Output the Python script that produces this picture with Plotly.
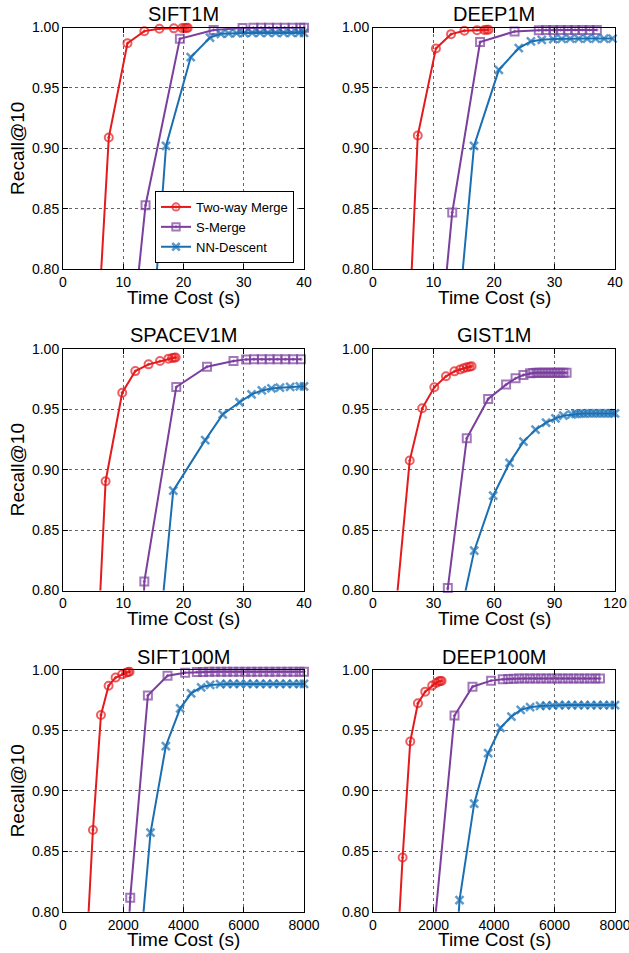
import plotly.graph_objects as go

W, H = 629, 953

titles = ["SIFT1M", "DEEP1M", "SPACEV1M", "GIST1M", "SIFT100M", "DEEP100M"]
series_names = ["Two-way Merge", "S-Merge", "NN-Descent"]

# ---- SIFT1M ----
sift1m_merge_x = [5.2, 7.6, 10.7, 13.5, 16.0, 18.4, 19.8, 20.2, 20.5, 20.7]
sift1m_merge_y = [0.70, 0.909, 0.987, 0.997, 0.999, 0.9993, 0.9995, 0.9996, 0.9996, 0.9997]
sift1m_smerge_x = [11.5, 13.7, 19.4, 25.0, 29.8, 31.6, 32.9, 34.2, 35.5, 36.8, 38.1, 39.4, 40.0]
sift1m_smerge_y = [0.747, 0.853, 0.9906, 0.998, 0.9995, 0.9997, 0.9998, 0.9998, 0.9998, 0.9998, 0.9998, 0.9998, 0.9998]
sift1m_nnd_x = [14.5, 17.1, 21.2, 24.4, 26.2, 27.5, 28.8, 30.1, 31.4, 32.7, 34.0, 35.3, 36.6, 37.9, 39.2, 40.0]
sift1m_nnd_y = [0.725, 0.902, 0.9754, 0.9917, 0.9948, 0.9952, 0.9953, 0.9954, 0.9955, 0.9955, 0.9955, 0.9955, 0.9955, 0.9955, 0.9955, 0.9955]

# ---- DEEP1M ----
deep1m_merge_x = [5.5, 7.4, 10.4, 12.9, 15.1, 17.2, 18.4, 18.8, 19.1]
deep1m_merge_y = [0.70, 0.9107, 0.9827, 0.9945, 0.9973, 0.9978, 0.998, 0.9981, 0.9982]
deep1m_smerge_x = [11.1, 13.1, 17.7, 23.4, 27.4, 28.6, 29.8, 31.0, 32.2, 33.4, 34.6, 35.8, 37.0]
deep1m_smerge_y = [0.742, 0.847, 0.988, 0.9967, 0.9978, 0.998, 0.998, 0.998, 0.998, 0.998, 0.998, 0.998, 0.998]
deep1m_nnd_x = [13.5, 16.7, 20.8, 24.1, 26.1, 27.9, 29.8, 31.2, 32.6, 34.0, 35.4, 36.8, 38.2, 39.6]
deep1m_nnd_y = [0.726, 0.902, 0.965, 0.983, 0.9885, 0.9898, 0.9904, 0.9906, 0.9907, 0.9908, 0.9908, 0.9908, 0.9908, 0.9908]

# ---- SPACEV1M ----
spacev_merge_x = [5.3, 7.07, 9.83, 12.0, 14.2, 16.1, 17.5, 18.1, 18.45, 18.7]
spacev_merge_y = [0.706, 0.8905, 0.9638, 0.9817, 0.9873, 0.990, 0.992, 0.9925, 0.9928, 0.993]
spacev_smerge_x = [13.0, 13.5, 18.8, 23.9, 28.3, 30.4, 31.7, 33.0, 34.3, 35.6, 36.9, 38.2, 39.5]
spacev_smerge_y = [0.72, 0.8075, 0.9685, 0.9853, 0.990, 0.9914, 0.9915, 0.9915, 0.9915, 0.9915, 0.9915, 0.9915, 0.9915]
spacev_nnd_x = [15.5, 18.3, 23.6, 26.5, 29.3, 31.3, 33.0, 34.6, 36.0, 37.7, 39.3, 40.0]
spacev_nnd_y = [0.738, 0.8827, 0.9245, 0.9458, 0.9559, 0.9624, 0.9657, 0.9673, 0.968, 0.9687, 0.969, 0.969]

# ---- GIST1M ----
gist_merge_x = [8.0, 18.2, 24.4, 30.4, 36.2, 40.4, 43.2, 44.9, 46.5, 47.9, 48.9]
gist_merge_y = [0.725, 0.9076, 0.9509, 0.9683, 0.9774, 0.9815, 0.983, 0.984, 0.9848, 0.9854, 0.9857]
gist_smerge_x = [36.0, 37.1, 46.5, 57.1, 66.0, 70.7, 74.6, 77.9, 79.5, 81.0, 82.5, 84.0, 85.5, 87.0, 88.5, 90.0, 91.5, 93.0, 94.5, 96.0]
gist_smerge_y = [0.75, 0.802, 0.926, 0.9586, 0.9705, 0.9757, 0.9785, 0.980, 0.9802, 0.9803, 0.9803, 0.9803, 0.9803, 0.9803, 0.9803, 0.9803, 0.9803, 0.9803, 0.9803, 0.9803]
gist_nnd_x = [41.0, 50.2, 59.6, 67.7, 74.6, 80.6, 85.8, 90.5, 94.4, 98.5, 100.5, 102.5, 104.5, 106.5, 108.5, 110.5, 112.5, 114.5, 116.5, 118.5, 120.0]
gist_nnd_y = [0.762, 0.833, 0.8785, 0.9057, 0.9233, 0.9332, 0.939, 0.9426, 0.9448, 0.9459, 0.9462, 0.9464, 0.9465, 0.9466, 0.9466, 0.9466, 0.9466, 0.9466, 0.9466, 0.9466, 0.9466]

# ---- SIFT100M ----
sift100m_merge_x = [700, 994, 1260, 1514, 1746, 1967, 2099, 2166, 2210]
sift100m_merge_y = [0.729, 0.8676, 0.9628, 0.987, 0.9937, 0.9964, 0.9978, 0.9983, 0.9986]
sift100m_smerge_x = [2100, 2232, 2818, 3470, 4055, 4442, 4650, 4850, 5050, 5250, 5450, 5650, 5850, 6050, 6250, 6450, 6650, 6850, 7050, 7250, 7450, 7650, 7850, 8000]
sift100m_smerge_y = [0.74, 0.8116, 0.979, 0.9953, 0.9978, 0.9983, 0.9984, 0.9985, 0.9985, 0.9985, 0.9985, 0.9985, 0.9985, 0.9985, 0.9985, 0.9985, 0.9985, 0.9985, 0.9985, 0.9985, 0.9985, 0.9985, 0.9985, 0.9985]
sift100m_nnd_x = [2500, 2906, 3414, 3890, 4254, 4586, 4884, 5215, 5440, 5660, 5880, 6100, 6320, 6540, 6760, 6980, 7200, 7420, 7640, 7860, 8000]
sift100m_nnd_y = [0.751, 0.8654, 0.9371, 0.9683, 0.9807, 0.9857, 0.9876, 0.9884, 0.9885, 0.9885, 0.9885, 0.9885, 0.9885, 0.9885, 0.9885, 0.9885, 0.9885, 0.9885, 0.9885, 0.9885, 0.9885]

# ---- DEEP100M ----
deep100m_merge_x = [780, 979, 1232, 1485, 1727, 1958, 2090, 2167, 2222, 2266]
deep100m_merge_y = [0.755, 0.8448, 0.9409, 0.9725, 0.9821, 0.9871, 0.9893, 0.9904, 0.9909, 0.991]
deep100m_smerge_x = [1900, 2695, 3289, 3905, 4290, 4470, 4650, 4830, 5010, 5190, 5370, 5550, 5730, 5910, 6090, 6270, 6450, 6630, 6810, 6990, 7170, 7350, 7503]
deep100m_smerge_y = [0.753, 0.9623, 0.9862, 0.9912, 0.9923, 0.9926, 0.9928, 0.993, 0.993, 0.993, 0.993, 0.993, 0.993, 0.993, 0.993, 0.993, 0.993, 0.993, 0.993, 0.993, 0.993, 0.993, 0.993]
deep100m_nnd_x = [2790, 2860, 3344, 3806, 4213, 4576, 4884, 5193, 5523, 5730, 5940, 6150, 6360, 6570, 6780, 6990, 7200, 7410, 7620, 7830, 8000]
deep100m_nnd_y = [0.78, 0.8096, 0.8894, 0.9312, 0.9521, 0.9615, 0.967, 0.9692, 0.9703, 0.9706, 0.9708, 0.971, 0.971, 0.971, 0.971, 0.971, 0.971, 0.971, 0.971, 0.971, 0.971]

datasets = [
    [(sift1m_merge_x, sift1m_merge_y), (sift1m_smerge_x, sift1m_smerge_y), (sift1m_nnd_x, sift1m_nnd_y)],
    [(deep1m_merge_x, deep1m_merge_y), (deep1m_smerge_x, deep1m_smerge_y), (deep1m_nnd_x, deep1m_nnd_y)],
    [(spacev_merge_x, spacev_merge_y), (spacev_smerge_x, spacev_smerge_y), (spacev_nnd_x, spacev_nnd_y)],
    [(gist_merge_x, gist_merge_y), (gist_smerge_x, gist_smerge_y), (gist_nnd_x, gist_nnd_y)],
    [(sift100m_merge_x, sift100m_merge_y), (sift100m_smerge_x, sift100m_smerge_y), (sift100m_nnd_x, sift100m_nnd_y)],
    [(deep100m_merge_x, deep100m_merge_y), (deep100m_smerge_x, deep100m_smerge_y), (deep100m_nnd_x, deep100m_nnd_y)],
]

x_ranges = [[0, 40], [0, 40], [0, 40], [0, 120], [0, 8000], [0, 8000]]
x_ticks = [[0, 10, 20, 30, 40], [0, 10, 20, 30, 40], [0, 10, 20, 30, 40],
           [0, 30, 60, 90, 120], [0, 2000, 4000, 6000, 8000], [0, 2000, 4000, 6000, 8000]]
y_ticks = [0.80, 0.85, 0.90, 0.95, 1.00]

colors = ["#e41a1c", "#7b3f9e", "#1a6fb3"]
symbols = ["circle-open-dot", "square-open-dot", "x-thin-open"]
msizes = [8, 8, 8]
mlw = [2, 2, 2.5]

FONT = "Liberation Sans, Arial, Helvetica, sans-serif"

# pixel geometry of the plot areas (window pixels)
col_px = [(63, 304), (373, 615)]
row_px = [(27.5, 269.3), (349, 590.5), (670, 911.7)]


def px2x(p):
    return p / W


def px2y(p):
    return 1 - p / H


fig = go.Figure()
layout = dict(
    template="none",
    width=W, height=H, margin=dict(l=0, r=0, t=0, b=0, autoexpand=False),
    paper_bgcolor="white", plot_bgcolor="white",
    font=dict(family=FONT, size=14, color="black"),
    showlegend=True,
)
annotations = []

for i in range(6):
    r, c = divmod(i, 2)
    xa = "x" if i == 0 else f"x{i+1}"
    ya = "y" if i == 0 else f"y{i+1}"
    for k in range(3):
        xs, ys = datasets[i][k]
        sizes = [msizes[k] if (yv >= 0.8) else 0 for yv in ys]
        fig.add_trace(go.Scatter(
            x=xs, y=ys, mode="lines+markers", name=series_names[k],
            xaxis=xa, yaxis=ya, showlegend=(i == 0), cliponaxis=False,
            line=dict(color=colors[k], width=2),
            marker=dict(symbol=symbols[k], size=sizes, color=colors[k],
                        line=dict(color=colors[k], width=mlw[k])),
        ))
    x0, x1 = col_px[c]
    y0, y1 = row_px[r]
    axcommon = dict(
        automargin=False, ticklabeloverflow="allow",
        showline=True, linecolor="black", linewidth=1, mirror="allticks",
        ticks="inside", ticklen=5, tickwidth=1, tickcolor="black",
        showgrid=True, gridcolor="rgba(0,0,0,0.6)", gridwidth=1, griddash="dot",
        zeroline=False, tickfont=dict(family=FONT, size=14, color="black"),
    )
    layout["xaxis" if i == 0 else f"xaxis{i+1}"] = dict(
        axcommon, domain=[px2x(x0), px2x(x1)], range=x_ranges[i],
        tickvals=x_ticks[i], anchor=ya,
    )
    layout["yaxis" if i == 0 else f"yaxis{i+1}"] = dict(
        axcommon, domain=[px2y(y1), px2y(y0)], range=[0.80, 1.00],
        tickvals=y_ticks, tickformat=".2f", anchor=xa,
    )
    cx = (x0 + x1) / 2
    annotations.append(dict(
        text=titles[i], x=px2x(cx), y=px2y(y0 - 13.5), xref="paper", yref="paper",
        xanchor="center", yanchor="middle", showarrow=False, borderpad=0,
        font=dict(family=FONT, size=20, color="black"),
    ))
    annotations.append(dict(
        text="Time Cost (s)", x=px2x(cx), y=px2y(y1 + 28), xref="paper", yref="paper",
        xanchor="center", yanchor="middle", showarrow=False, borderpad=0,
        font=dict(family=FONT, size=19, color="black"),
    ))
    if c == 0:
        annotations.append(dict(
            text="Recall@10", x=px2x(17.5), y=px2y((y0 + y1) / 2), xref="paper", yref="paper",
            xanchor="center", yanchor="middle", showarrow=False, textangle=-90,
            font=dict(family=FONT, size=19, color="black"),
        ))

layout["annotations"] = annotations
layout["legend"] = dict(
    x=px2x(155), y=px2y(191), xanchor="left", yanchor="top",
    bgcolor="white", bordercolor="black", borderwidth=1,
    font=dict(family=FONT, size=13, color="black"),
)
fig.update_layout(**layout)
fig.write_html(
    "out.html",
    config={"displayModeBar": False},
    post_script="document.body.style.margin='0px';document.body.style.overflow='hidden';",
)
